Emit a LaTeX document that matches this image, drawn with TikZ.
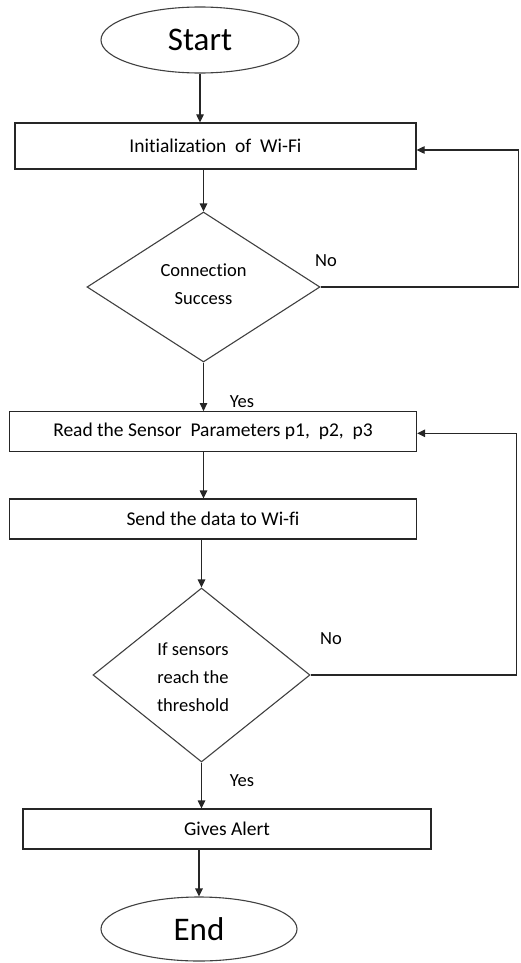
\documentclass[tikz,border=0pt]{standalone}
\usepackage{fontspec}
\setmainfont{Carlito}[Ligatures={NoCommon,NoRare,NoContextual}]
\usetikzlibrary{shapes.geometric,arrows.meta,calc}
\begin{document}
\begin{tikzpicture}[x=1pt,y=-1pt,
  line/.style={draw=black!85,line width=1.2pt},
  arr/.style={line,-{Triangle[length=8pt,width=7.5pt]}},
  term/.style={ellipse,draw=black!75,line width=1.1pt,inner sep=0pt,font=\fontsize{33}{36}\selectfont},
  procbox/.style={rectangle,draw=black!85,line width=1.2pt,inner sep=0pt,font=\fontsize{19.5}{24}\selectfont},
  decision/.style={diamond,draw=black!75,line width=1.1pt,inner sep=0pt},
  dtext/.style={inner sep=0pt,align=center,font=\fontsize{18.5}{28}\selectfont},
  lbl/.style={inner sep=0pt,font=\fontsize{18.5}{22}\selectfont}
]
\useasboundingbox (0,0) rectangle (520,963);

\node[term,minimum width=198pt,minimum height=66pt] (start) at (200,40) {Start};
\node[procbox,minimum width=401pt,minimum height=46pt] (init) at (215.5,146) {Initialization\ \ of\ \ Wi-Fi};
\node[decision,minimum width=233pt,minimum height=150pt] (d1) at (203.5,287) {};
\node[dtext] (d1t) at (203.5,284) {Connection\\Success};
\node[procbox,minimum width=407pt,minimum height=40pt] (read) at (213,431.7) {Read the Sensor\ \ Parameters p1,\ \ p2,\ \ p3};
\node[procbox,minimum width=407pt,minimum height=40pt] (send) at (213,519) {Send the data to Wi-fi};
\node[decision,minimum width=217pt,minimum height=174pt] (d2) at (201.5,675) {};
\node[dtext] (d2t) at (193,677) {If sensors\\reach the\\threshold};
\node[procbox,minimum width=408pt,minimum height=40pt] (alert) at (227,829) {Gives Alert};
\node[term,minimum width=196pt,minimum height=64pt] (end) at (199,929) {End};

\node[lbl] (no1) at (326,261) {No};
\node[lbl] (yes1) at (242,402) {Yes};
\node[lbl] (no2) at (331,639) {No};
\node[lbl] (yes2) at (242,781) {Yes};

\coordinate (r1) at (518.3,150);
\coordinate (r2) at (516.7,433.3);

\draw[arr] (start.south) -- (start.south |- init.north);
\draw[arr] (d1.north |- init.south) -- (d1.north);
\draw[arr] (d1.south) -- (d1.south |- read.north);
\draw[arr] (d1.south |- read.south) -- (d1.south |- send.north);
\draw[arr] (d2.north |- send.south) -- (d2.north);
\draw[arr] (d2.south) -- (d2.south |- alert.north);
\draw[arr] (end.north |- alert.south) -- (end.north);

\draw[arr] (d1.east) -- (d1.east -| r1) -- (r1) -- (r1 -| init.east);
\draw[arr] (d2.east) -- (d2.east -| r2) -- (r2) -- (r2 -| read.east);
\end{tikzpicture}
\end{document}
